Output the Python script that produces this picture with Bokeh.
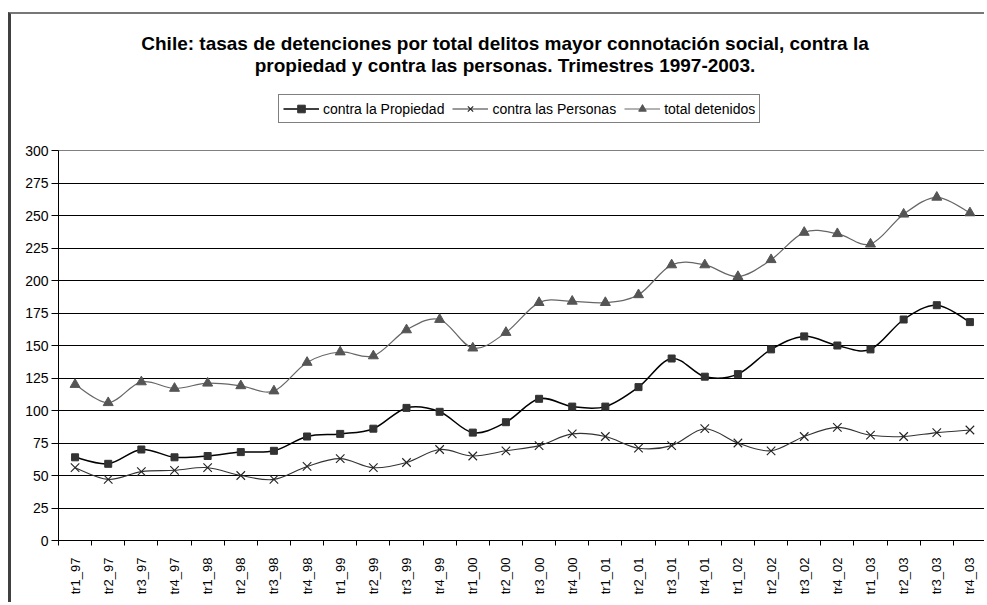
import numpy as np
from bokeh.plotting import figure
from bokeh.layouts import column
from bokeh.models import (FixedTicker, Legend, LegendItem, Range1d, Label)
from bokeh.embed import file_html
from bokeh.resources import INLINE

# ---------------- data ----------------
categories = ["tr1_97", "tr2_97", "tr3_97", "tr4_97",
              "tr1_98", "tr2_98", "tr3_98", "tr4_98",
              "tr1_99", "tr2_99", "tr3_99", "tr4_99",
              "tr1_00", "tr2_00", "tr3_00", "tr4_00",
              "tr1_01", "tr2_01", "tr3_01", "tr4_01",
              "tr1_02", "tr2_02", "tr3_02", "tr4_02",
              "tr1_03", "tr2_03", "tr3_03", "tr4_03"]
propiedad = [64, 59, 70, 64, 65, 68, 69, 80, 82, 86, 102, 99, 83, 91,
             109, 103, 103, 118, 140, 126, 128, 147, 157, 150, 147, 170, 181, 168]
personas = [56, 47, 53, 54, 56, 50, 47, 57, 63, 56, 60, 70, 65, 69,
            73, 82, 80, 71, 73, 86, 75, 69, 80, 87, 81, 80, 83, 85]
total = [120, 106, 122, 117, 121, 119, 115, 137, 145, 142, 162, 170, 148, 160,
         183, 184, 183, 189, 212, 212, 203, 216, 237, 236, 228, 251, 264, 252]
series_names = ["contra la Propiedad", "contra las Personas", "total detenidos"]
y_ticks = list(range(0, 301, 25))
title_lines = ["Chile: tasas de detenciones por total delitos mayor connotación social, contra la",
               "propiedad y contra las personas. Trimestres 1997-2003."]

FONT = "Liberation Sans"

n = len(categories)
xs = [i + 0.5 for i in range(n)]          # category centres
bounds = list(range(n + 1))               # category boundaries

styles = [
    dict(ys=propiedad, line="#000000", lw=1.5, marker="square", size=7, mcol="#333333"),
    dict(ys=personas, line="#333333", lw=1.1, marker="x", size=12, mcol="#222222"),
    dict(ys=total, line="#666666", lw=1.2, marker="triangle", size=10, mcol="#555555"),
]

# ---------------- header (title + legend) ----------------
h = figure(width=976, height=128, x_range=Range1d(0, 1), y_range=Range1d(0, 1),
           x_axis_type=None, y_axis_type=None, output_backend="svg", toolbar_location=None,
           min_border_left=0, min_border_right=0, min_border_top=0, min_border_bottom=0)
h.title.visible = False
h.grid.visible = False
h.outline_line_color = None
h.background_fill_color = "white"
h.border_fill_color = "white"
h.styles = {"margin-left": "8px", "margin-top": "12px",
            "border-left": "3px solid #404040", "border-top": "2px solid #777777"}

for t, yy in zip(title_lines, [99, 77]):
    h.add_layout(Label(x=446.5, y=yy, x_units="screen", y_units="screen", text=t,
                       text_align="center", text_baseline="middle", text_font=FONT,
                       text_font_size="19px", text_font_style="bold", text_color="black"))

items = []
for name, st in zip(series_names, styles):
    lp = h.line(xs, st["ys"], line_color=st["line"], line_width=st["lw"], visible=False)
    if st["marker"] == "x":
        mp = h.scatter(xs, st["ys"], marker="x", size=st["size"], line_color=st["mcol"],
                       line_width=1.1, visible=False)
    else:
        mp = h.scatter(xs, st["ys"], marker=st["marker"], size=st["size"],
                       fill_color=st["mcol"], line_color=st["mcol"], visible=False)
    items.append(LegendItem(label=name, renderers=[lp, mp]))

legend = Legend(items=items, orientation="horizontal", location=(220, 19),
                glyph_width=36, glyph_height=19, label_height=19, label_standoff=4,
                spacing=8, padding=4, margin=0,
                label_text_font=FONT, label_text_font_size="14px", label_text_color="black",
                border_line_color="black", border_line_width=1,
                background_fill_color="white", background_fill_alpha=1)
h.add_layout(legend)

# ---------------- main chart ----------------
p = figure(width=976, height=462, x_range=Range1d(0, n), y_range=Range1d(0, 300),
           output_backend="svg", toolbar_location=None,
           min_border_left=47, min_border_right=1, min_border_top=10, min_border_bottom=62)
p.title.visible = False
p.background_fill_color = "white"
p.border_fill_color = "white"
p.outline_line_color = "#808080"
p.outline_line_width = 1
p.styles = {"margin-left": "8px", "border-left": "3px solid #404040"}

# y axis
p.yaxis.ticker = FixedTicker(ticks=y_ticks)
p.yaxis.major_tick_out = 7
p.yaxis.major_tick_in = 0
p.yaxis.minor_tick_out = 0
p.yaxis.minor_tick_in = 0
p.yaxis.major_label_standoff = 3
p.yaxis.major_label_text_font = FONT
p.yaxis.major_label_text_font_size = "14px"
p.yaxis.major_label_text_color = "black"
p.yaxis.axis_line_color = "black"
p.yaxis.major_tick_line_color = "black"
p.ygrid.ticker = FixedTicker(ticks=y_ticks[1:-1])
p.ygrid.grid_line_color = "black"
p.ygrid.grid_line_width = 1
p.xgrid.visible = False

# x axis
p.xaxis.ticker = FixedTicker(ticks=xs, minor_ticks=bounds)
p.xaxis.major_label_overrides = {x: c for x, c in zip(xs, categories)}
p.xaxis.major_tick_out = 0
p.xaxis.major_tick_in = 0
p.xaxis.minor_tick_out = 5
p.xaxis.minor_tick_in = 0
p.xaxis.minor_tick_line_color = "black"
p.xaxis.axis_line_color = "black"
p.xaxis.major_label_orientation = np.pi / 2
p.xaxis.major_label_standoff = 12
p.xaxis.major_label_text_font = FONT
p.xaxis.major_label_text_font_size = "13px"
p.xaxis.major_label_text_color = "black"


def smooth(ys):
    """Bezier control points (Catmull-Rom style, like spreadsheet smoothing)."""
    m = len(ys)
    d = dict(x0=[], y0=[], x1=[], y1=[], cx0=[], cy0=[], cx1=[], cy1=[])
    for i in range(m - 1):
        a = max(i - 1, 0)
        b = min(i + 2, m - 1)
        d["x0"].append(xs[i]); d["y0"].append(ys[i])
        d["x1"].append(xs[i + 1]); d["y1"].append(ys[i + 1])
        d["cx0"].append(xs[i] + (xs[i + 1] - xs[a]) / 6)
        d["cy0"].append(ys[i] + (ys[i + 1] - ys[a]) / 6)
        d["cx1"].append(xs[i + 1] - (xs[b] - xs[i]) / 6)
        d["cy1"].append(ys[i + 1] - (ys[b] - ys[i]) / 6)
    return d


for st in styles:
    p.bezier(**smooth(st["ys"]), line_color=st["line"], line_width=st["lw"])
    if st["marker"] == "x":
        p.scatter(xs, st["ys"], marker="x", size=st["size"], line_color=st["mcol"], line_width=1.1)
    else:
        p.scatter(xs, st["ys"], marker=st["marker"], size=st["size"],
                  fill_color=st["mcol"], line_color=st["mcol"])

layout = column(h, p, spacing=0)
open("out.html", "w").write(file_html(layout, INLINE))
